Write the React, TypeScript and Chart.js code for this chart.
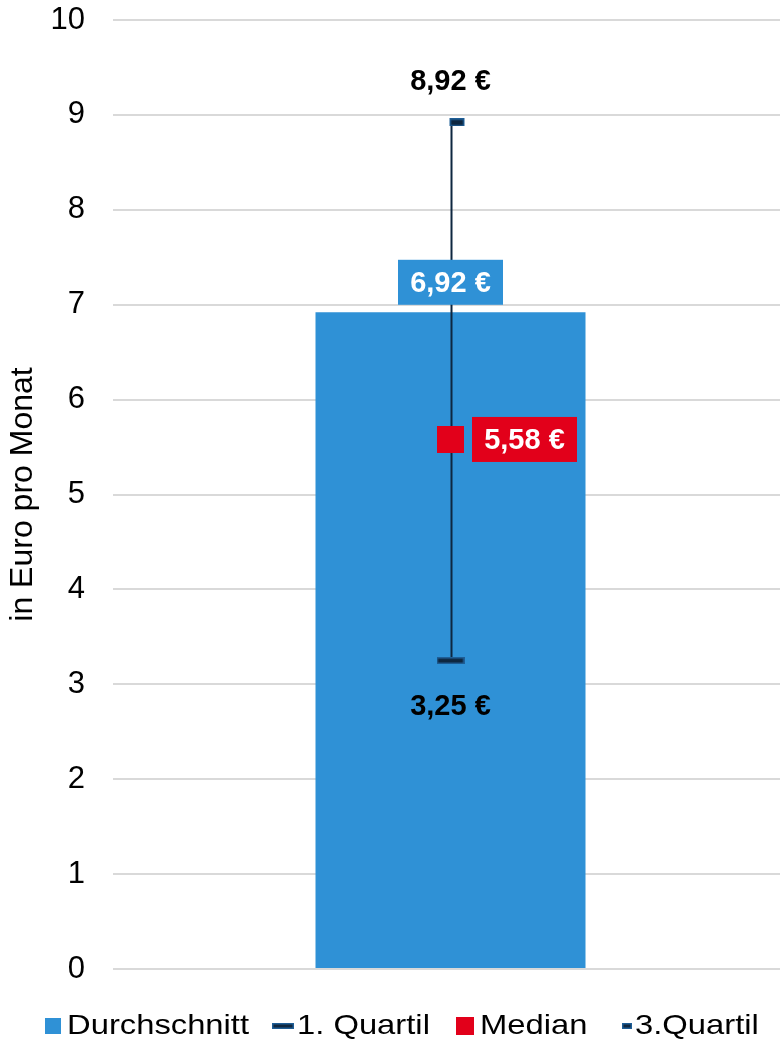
import React, { useEffect, useRef } from "react";
import { Chart, registerables } from "chart.js";

Chart.register(...registerables);

// ---- data ----
const categories = ["Ausgaben"];
const averageValues = [6.92];
const firstQuartileValues = [3.25];
const medianValues = [5.58];
const thirdQuartileValues = [8.92];
const yTickValues = [0, 1, 2, 3, 4, 5, 6, 7, 8, 9, 10];
const seriesNames = ["Durchschnitt", "1. Quartil", "Median", "3.Quartil"];
const yAxisTitle = "in Euro pro Monat";

// ---- style ----
const FONT = "'Liberation Sans', Arial, Helvetica, sans-serif";
const BLUE = "#2F91D6";
const RED = "#E2001A";
const NAVY = "#0E2740";
const NAVY_EDGE = "#1F5E96";
const GRID = "#D9D9D9";

const fmtEuro = (v: number) => v.toFixed(2).replace(".", ",") + " €";

// Small canvases used as point markers (dash caps and the median square)
function makeDash(w: number, h: number, canvasW: number, offsetX: number) {
  const c = document.createElement("canvas");
  c.width = canvasW;
  c.height = h;
  const ctx = c.getContext("2d")!;
  ctx.fillStyle = NAVY_EDGE;
  ctx.fillRect(offsetX, 0, w, h);
  ctx.fillStyle = NAVY;
  ctx.fillRect(offsetX + 1.5, 1.5, w - 3, h - 3);
  return c;
}

function makeSquare(size: number, color: string) {
  const c = document.createElement("canvas");
  c.width = size;
  c.height = size;
  const ctx = c.getContext("2d")!;
  ctx.fillStyle = color;
  ctx.fillRect(0, 0, size, size);
  return c;
}

// Whisker from 1st to 3rd quartile, drawn right after the bar
const whiskerPlugin = {
  id: "whisker",
  afterDatasetDraw(chart: any, args: any) {
    if (args.index !== 0) return;
    const { ctx } = chart;
    const xs = chart.scales.x;
    const ys = chart.scales.y;
    const cx = Math.round(xs.getPixelForValue(0)) + 0.5;
    ctx.save();
    ctx.strokeStyle = NAVY;
    ctx.lineWidth = 2;
    ctx.beginPath();
    ctx.moveTo(cx, ys.getPixelForValue(thirdQuartileValues[0]));
    ctx.lineTo(cx, ys.getPixelForValue(firstQuartileValues[0]));
    ctx.stroke();
    ctx.restore();
  },
};

// Value labels
const labelPlugin = {
  id: "valueLabels",
  afterDatasetsDraw(chart: any) {
    const { ctx } = chart;
    const xs = chart.scales.x;
    const ys = chart.scales.y;
    const cx = xs.getPixelForValue(0);
    ctx.save();
    ctx.font = `bold 29px ${FONT}`;
    ctx.textAlign = "center";
    ctx.textBaseline = "alphabetic";

    // 3rd quartile above its cap
    ctx.fillStyle = "#000";
    ctx.fillText(fmtEuro(thirdQuartileValues[0]), cx, ys.getPixelForValue(thirdQuartileValues[0]) - 32);

    // 1st quartile below its cap
    ctx.fillText(fmtEuro(firstQuartileValues[0]), cx, ys.getPixelForValue(firstQuartileValues[0]) + 54);

    // average in a blue box above the bar
    const barTop = ys.getPixelForValue(averageValues[0]);
    const bw = 105;
    const bh = 45;
    const boxBottom = barTop - 7.5;
    ctx.fillStyle = BLUE;
    ctx.fillRect(cx - bw / 2, boxBottom - bh, bw, bh);
    ctx.fillStyle = "#fff";
    ctx.fillText(fmtEuro(averageValues[0]), cx, boxBottom - bh / 2 + 10);

    // median in a red box right of the marker
    const my = ys.getPixelForValue(medianValues[0]);
    const mx = cx + 21.5;
    ctx.fillStyle = RED;
    ctx.fillRect(mx, my - bh / 2, bw, bh);
    ctx.fillStyle = "#fff";
    ctx.fillText(fmtEuro(medianValues[0]), mx + bw / 2, my + 10);
    ctx.restore();
  },
};

// Legend row along the bottom
const legendPlugin = {
  id: "bottomLegend",
  afterDraw(chart: any) {
    const { ctx } = chart;
    const baseline = 1034;
    ctx.save();
    ctx.font = `28px ${FONT}`;
    ctx.textAlign = "left";
    ctx.textBaseline = "alphabetic";
    const drawLabel = (text: string, x: number) => {
      ctx.save();
      ctx.translate(x, baseline);
      ctx.scale(1.17, 1);
      ctx.fillStyle = "#000";
      ctx.fillText(text, 0, 0);
      ctx.restore();
    };
    // Durchschnitt
    ctx.fillStyle = BLUE;
    ctx.fillRect(45, 1018, 16, 16);
    drawLabel(seriesNames[0], 67);
    // 1. Quartil
    ctx.fillStyle = NAVY_EDGE;
    ctx.fillRect(272, 1023, 22, 6);
    ctx.fillStyle = NAVY;
    ctx.fillRect(273.5, 1024.5, 19, 3);
    drawLabel(seriesNames[1], 297);
    // Median
    ctx.fillStyle = RED;
    ctx.fillRect(456, 1017, 18, 18);
    drawLabel(seriesNames[2], 480);
    // 3.Quartil
    ctx.fillStyle = NAVY_EDGE;
    ctx.fillRect(622, 1023, 10, 6);
    ctx.fillStyle = NAVY;
    ctx.fillRect(623.5, 1024.5, 7, 3);
    drawLabel(seriesNames[3], 635);
    ctx.restore();
  },
};

export default function App() {
  const canvasRef = useRef<HTMLCanvasElement | null>(null);

  useEffect(() => {
    const canvas = canvasRef.current;
    if (!canvas) return;

    const q1Marker = makeDash(28, 7, 28, 0);
    const q3Marker = makeDash(15, 8, 30, 14);
    const medianMarker = makeSquare(27, RED);

    const chart = new Chart(canvas, {
      type: "bar",
      data: {
        labels: categories,
        datasets: [
          {
            type: "bar",
            label: seriesNames[0],
            data: averageValues,
            backgroundColor: BLUE,
            borderWidth: 0,
            barPercentage: 0.4,
            categoryPercentage: 1,
            order: 10,
          },
          {
            type: "line",
            label: seriesNames[1],
            data: firstQuartileValues,
            showLine: false,
            pointStyle: q1Marker as any,
            order: 3,
          },
          {
            type: "line",
            label: seriesNames[2],
            data: medianValues,
            showLine: false,
            pointStyle: medianMarker as any,
            order: 2,
          },
          {
            type: "line",
            label: seriesNames[3],
            data: thirdQuartileValues,
            showLine: false,
            pointStyle: q3Marker as any,
            order: 1,
          },
        ] as any,
      },
      options: {
        responsive: false,
        animation: false,
        events: [],
        layout: { padding: { top: 20, bottom: 71, left: 0, right: 0 } },
        plugins: {
          legend: { display: false },
          tooltip: { enabled: false },
        },
        scales: {
          x: {
            display: false,
            grid: { display: false },
            afterFit(scale: any) {
              scale.paddingLeft = 0;
              scale.paddingRight = 0;
            },
          },
          y: {
            min: 0,
            max: 10,
            afterBuildTicks(scale: any) {
              scale.ticks = yTickValues.map((v) => ({ value: v }));
            },
            afterFit(scale: any) {
              scale.width = 113;
              scale.paddingTop = 0;
              scale.paddingBottom = 0;
              scale.paddingLeft = 0;
              scale.paddingRight = 0;
            },
            ticks: {
              color: "#000",
              padding: 28,
              font: { family: FONT, size: 31 },
            },
            grid: { color: GRID, lineWidth: 2, drawTicks: false },
            border: { display: false },
            title: {
              display: true,
              text: yAxisTitle,
              color: "#000",
              font: { family: FONT, size: 32 },
              padding: { top: 4, bottom: 0 },
            },
          },
        },
      } as any,
      plugins: [whiskerPlugin, labelPlugin, legendPlugin],
    });

    return () => chart.destroy();
  }, []);

  return (
    <div
      style={{
        position: "absolute",
        left: 0,
        top: 0,
        width: 780,
        height: 1040,
        overflow: "hidden",
        background: "#fff",
      }}
    >
      <canvas
        ref={canvasRef}
        width={793}
        height={1040}
        style={{ display: "block", width: 793, height: 1040 }}
      />
    </div>
  );
}
